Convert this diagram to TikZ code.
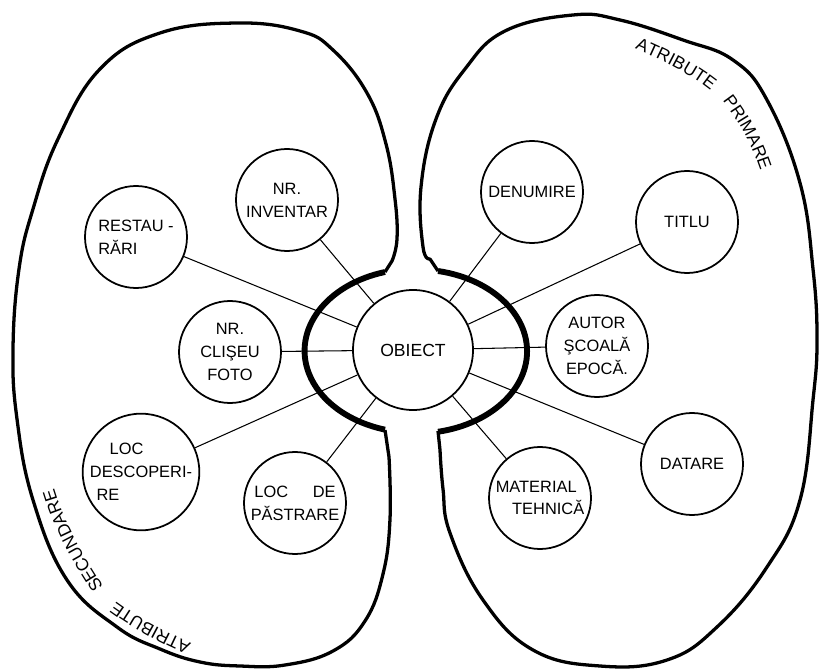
\documentclass[tikz,border=0pt]{standalone}
\usepackage{fontspec}
\setmainfont{Liberation Sans}
\usepackage{tikz}
\usetikzlibrary{decorations.text}

\begin{document}
\begin{tikzpicture}[x=0.03cm, y=0.03cm,
  contur/.style={line width=2.8pt, line join=round},
  inel/.style={line width=5pt},
  atribut/.style={circle, draw, line width=1.5pt, minimum size=3.06cm,
    inner sep=0pt, align=center, font=\fontsize{14}{19.5}\selectfont},
  legatura/.style={line width=0.9pt},
  eticheta/.style={decorate, decoration={text along path, text align=center,
    text={|\fontsize{15}{17}\selectfont|#1}}}]

  \useasboundingbox (0,0) rectangle (819,669);

  % 1. Conturul din stanga (atribute secundare)
  \draw[contur] (385,239) -- plot[smooth, tension=0.7] coordinates {
    (389,212) (390,150) (383,95) (365,48) (333,18) (285,4) (240,3) (200,7)
    (160,20) (117,42) (67,89) (33,169) (17,250) (13,320) (19,400) (33,460)
    (58,530) (100,600) (160,636) (238,646) (300,638) (333,619) (367,576)
    (386,525) (395,470) (397,430) (392,408)} -- (385,397);

  % 2. Conturul din dreapta (atribute primare)
  \draw[contur] (438,238) -- plot[smooth, tension=0.7] coordinates {
    (440,219) (443,180) (450,136) (483,69) (533,19) (600,3) (667,9) (717,42)
    (767,102) (800,169) (813,269) (817,330) (813,400) (800,486) (767,569)
    (733,609) (683,629) (620,649) (573,654) (505,638) (465,600) (436,550)
    (421,482) (423,422) (430,410)} -- (438,398);

  % 3. Inelul gros din jurul obiectului
  \draw[inel] (385,397) arc[start angle=106, end angle=254, x radius=111, y radius=82];
  \draw[inel] (438,398) arc[start angle=78.6, end angle=-78.6, x radius=111, y radius=82];

  % 4. Cercurile
  \node[atribut, minimum size=3.6cm, font=\fontsize{15}{17}\selectfont] (obiect) at (413,319) {OBIECT};
  \node[atribut] (inventar) at (287,469) {NR.\\INVENTAR};
  \node[atribut, align=left] (restaurari) at (136,432) {RESTAU -\\RĂRI};
  \node[atribut] (foto) at (230,317) {NR.\\CLIŞEU\\FOTO};
  \node[atribut, align=left] (descoperire) at (141,197) {\hspace{1.2em}LOC\\DESCOPERI-\\\hspace{0.4em}RE};
  \node[atribut] (pastrare) at (295,166) {LOC\hspace{1.5em}DE\\PĂSTRARE};
  \node[atribut] (denumire) at (532,477) {DENUMIRE};
  \node[atribut] (titlu) at (687,447) {TITLU};
  \node[atribut] (autor) at (597,323) {AUTOR\\ŞCOALĂ\\EPOCĂ.};
  \node[atribut] (datare) at (692,205) {DATARE};
  \node[atribut, align=left] (material) at (540,171) {MATERIAL\\\hspace{1em}TEHNICĂ};

  % 5. Legaturile
  \foreach \n in {inventar, restaurari, foto, descoperire, pastrare,
                  denumire, titlu, autor, datare, material}
    \draw[legatura] (obiect) -- (\n);

  % 6. Titlurile de-a lungul conturului
  \path[eticheta={ATRIBUTE}] (626,624) .. controls (658,611) and (694,594) .. (718,572);
  \path[eticheta={PRIMARE}] (715,578) .. controls (739,548) and (754,522) .. (764,486);
  \path[eticheta={ATRIBUTE}] (204,20) .. controls (168,35) and (133,53) .. (105,76);
  \path[eticheta={SECUNDARE}] (110,72) .. controls (84,112) and (62,147) .. (51,192);

\end{tikzpicture}
\end{document}
